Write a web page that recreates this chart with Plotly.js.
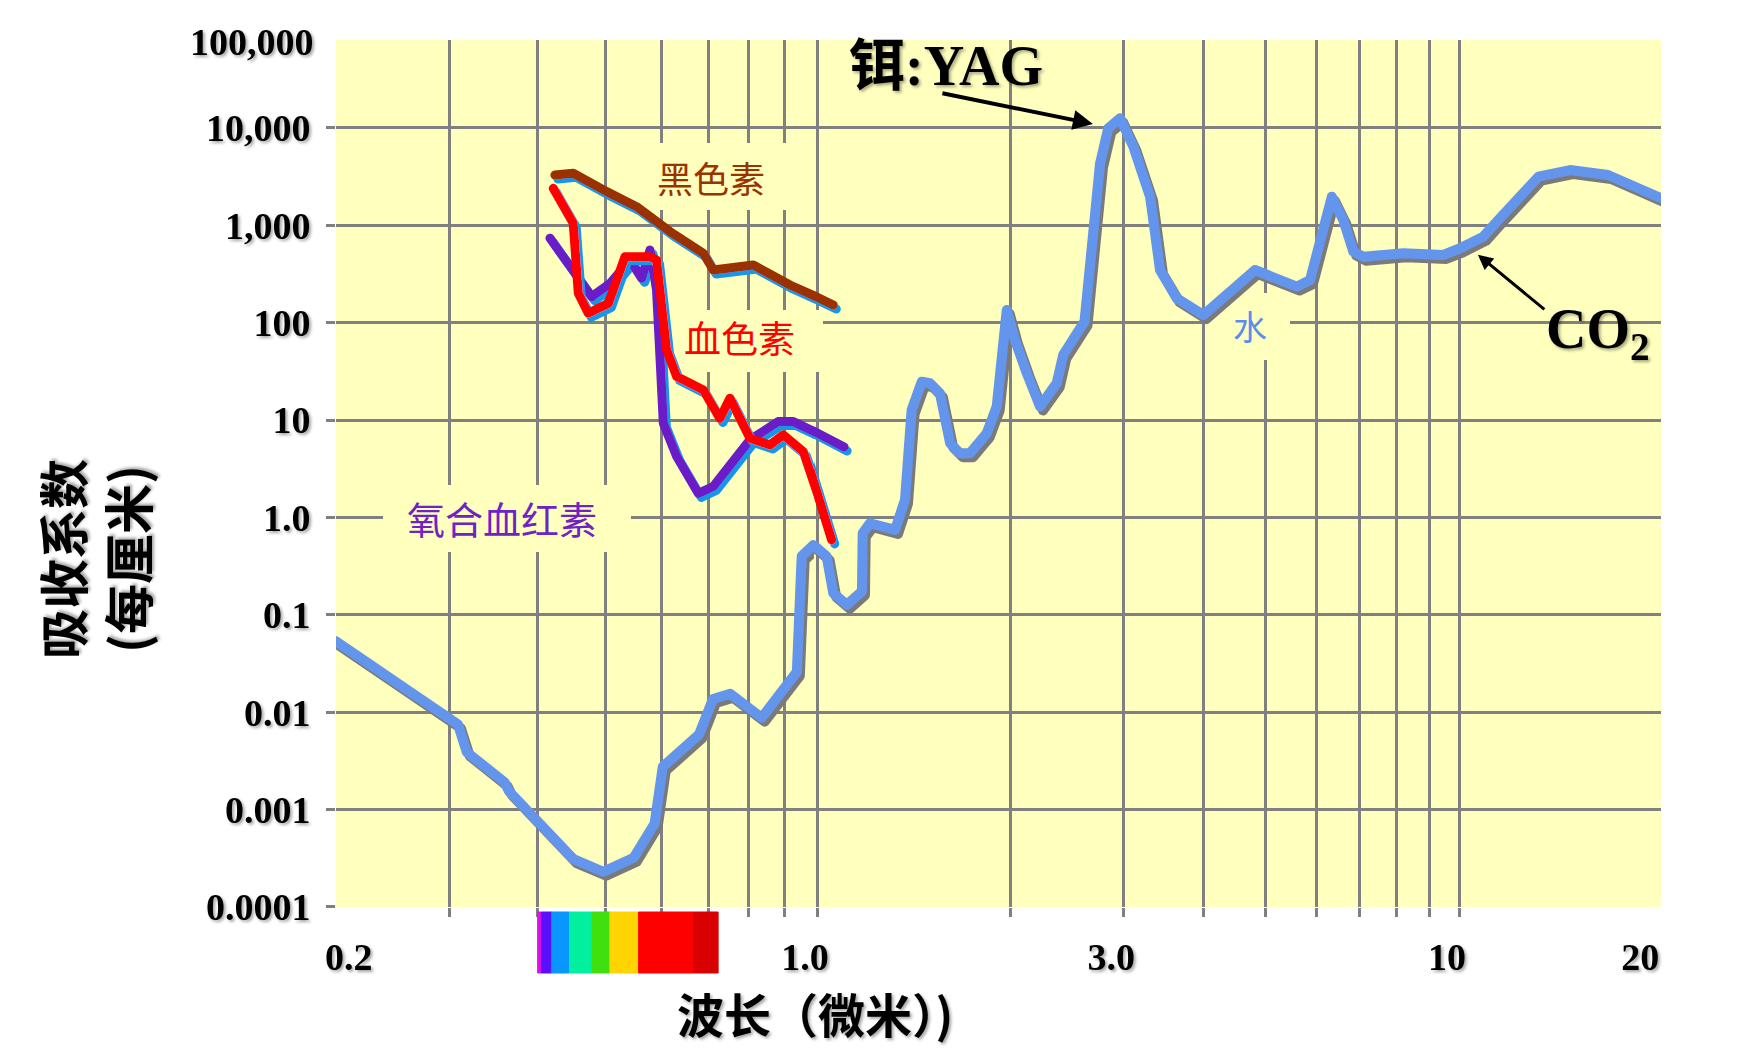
<!DOCTYPE html>
<html>
<head>
<meta charset="utf-8">
<script src="https://cdn.plot.ly/plotly-3.0.1.min.js"></script>
<style>
html,body{margin:0;padding:0;background:#ffffff;}
#chart{width:1740px;height:1050px;}
.js-line{stroke-linejoin:round !important;stroke-linecap:round !important;}
</style>
</head>
<body>
<div id="chart"></div>
<script>
// ---------------- data (wavelength in µm, absorption coefficient in cm^-1) ----------------
const waterWl  = [0.206, 0.270, 0.308, 0.317, 0.359, 0.364, 0.401, 0.450, 0.496, 0.548, 0.587, 0.603, 0.679, 0.711, 0.752, 0.834, 0.936, 0.951, 0.988,
                  1.035, 1.060, 1.113, 1.175, 1.178, 1.209, 1.323, 1.371, 1.404, 1.456, 1.500, 1.554, 1.612, 1.670, 1.731, 1.838, 1.905, 1.975,
                  2.034, 2.122, 2.225, 2.362, 2.419, 2.61, 2.760, 2.842, 2.965, 3.110, 3.302, 3.422, 3.634, 3.998, 4.398, 4.811, 5.588, 5.861,
                  6.337, 6.603, 6.846, 7.095, 8.190, 9.453, 10.04, 10.91, 11.51, 13.30, 14.89, 17.07, 20.64];
const waterAbs = [0.054, 0.0137, 0.0075, 0.0039, 0.0019, 0.00155, 0.00075, 0.00031, 0.00023, 0.00032, 0.00072, 0.00275, 0.0059, 0.0137, 0.0155, 0.0088, 0.026, 0.40, 0.52,
                  0.40, 0.167, 0.127, 0.175, 0.69, 0.873, 0.746, 1.52, 12.7, 24.8, 23.9, 18.9, 5.79, 4.57, 4.57, 7.33, 13.8, 135,
                  66.5, 30.3, 13.8, 23.9, 47, 103, 4340, 9930, 12600, 6430, 1970, 348, 178, 120, 201, 348, 235, 275,
                  1970, 1135, 537, 477, 517, 497, 582, 766, 1135, 3160, 3700, 3290, 1900];

const melaninWl  = [0.4233, 0.4495, 0.5017, 0.5534, 0.6177, 0.6887, 0.7115, 0.8115, 0.9152, 1.060];
const melaninAbs = [3290, 3430, 2220, 1556, 861, 517, 348, 392, 244, 152];

const hbWl  = [0.421, 0.4495, 0.4571, 0.4723, 0.5044, 0.5327, 0.5782, 0.5908, 0.6106, 0.6312, 0.6887, 0.7273, 0.7516, 0.8026, 0.857, 0.8954, 0.9561, 1.054];
const hbAbs = [2400, 1052, 201, 125, 158, 477, 477, 441, 52.6, 28, 20.4, 10.4, 16.8, 6.51, 5.56, 7.05, 4.75, 0.589];

const hbo2Wl  = [0.4165, 0.452, 0.4776, 0.5073, 0.5415, 0.5627, 0.5782, 0.5908, 0.6041, 0.6312, 0.6774, 0.7115, 0.8026, 0.8808, 0.9252, 1.102];
const hbo2Abs = [738, 310, 185, 254, 441, 286, 559, 217, 9.29, 4.22, 1.77, 2.08, 6.27, 9.66, 9.66, 5.3];

// visible spectrum strip (band edges in µm)
const spectrumEdges  = [0.400, 0.405, 0.419, 0.444, 0.478, 0.507, 0.557, 0.668, 0.723];
const spectrumColors = ['#E010E0', '#5A10FF', '#0A96FF', '#00F0A0', '#40E010', '#FFD400', '#FF0000', '#D80000'];

// laser annotation targets
const yagPoint = [2.69, 11000];
const co2Point = [10.7, 500];

// ticks
const yTickVals = [1e-4, 1e-3, 0.01, 0.1, 1, 10, 100, 1000, 10000];
const yTickText = ['0.0001', '0.001', '0.01', '0.1', '1.0', '10', '100', '1,000', '10,000'];
const yTopLabel = '100,000';
const xTickValsIR = [1, 3, 10, 20];
const xTickTextIR = ['1.0', '3.0', '10', '20'];
const xLeftLabel = '0.2';
const xGridVis = [0.3, 0.4, 0.5, 0.6, 0.7, 0.8, 0.9];
const xGridIR  = [1, 2, 3, 4, 5, 6, 7, 8, 9, 10];

// ---------------- geometry (pixels) ----------------
const G = {L: 336, R: 1661, T: 40, B: 907, split: 814, one: 817, decL: 702, decR: 642, decY: 97.4, y1e4: 128};
const px = X => (X - G.L) / (G.R - G.L);
const py = Y => (G.B - Y) / (G.B - G.T);
const dSplit = px(G.split);
// pixel -> axis value helpers (for label backing boxes only)
const xVal = (sub, X) => Math.pow(10, (X - G.one) / (sub === 'x' ? G.decL : G.decR));
const yVal = Y => Math.pow(10, 4 - (Y - G.y1e4) / G.decY);

const yellow = '#FFFFBE';
const gridGrey = '#808080';

// ---------------- traces ----------------
function splitAt1(wl, v) {
  const k = wl.findIndex(w => w >= 1);
  return {left: [wl.slice(0, k + 1), v.slice(0, k + 1)], right: [wl.slice(k - 1), v.slice(k - 1)]};
}
const series = [
  {wl: waterWl,   v: waterAbs,   color: '#6495ED', width: 10, shadow: 'grey'},
  {wl: melaninWl, v: melaninAbs, color: '#993300', width: 9, shadow: 'blue'},
  {wl: hbo2Wl,    v: hbo2Abs,    color: '#6A1CC8', width: 9, shadow: 'blue'},
  {wl: hbWl,      v: hbAbs,      color: '#FF0000', width: 9, shadow: 'blue'}
];
const traces = [];
series.forEach(s => {
  const p = splitAt1(s.wl, s.v);
  [['x', p.left], ['x2', p.right]].forEach(([ax, d]) => {
    traces.push({x: d[0], y: d[1], xaxis: ax, yaxis: 'y', type: 'scatter', mode: 'lines',
      line: {color: s.color, width: s.width}, meta: s.shadow, hoverinfo: 'skip', showlegend: false});
  });
});

// ---------------- shapes ----------------
const shapes = [];
function boxShape(sub, X0, X1, Y0, Y1) {
  return {type: 'rect', layer: 'between', xref: sub, yref: 'y',
    x0: xVal(sub, X0), x1: xVal(sub, X1), y0: yVal(Y1), y1: yVal(Y0),
    fillcolor: yellow, line: {width: 0}};
}
shapes.push(boxShape('x', 635, 800, 143, 210));   // 黑色素
shapes.push(boxShape('x', 662, 815, 310, 372));   // 血色素
shapes.push(boxShape('x2', 813, 823, 310, 372));
shapes.push(boxShape('x', 383, 631, 485, 552));   // 氧合血红素
shapes.push(boxShape('x2', 1207, 1290, 293, 360)); // 水
spectrumColors.forEach((c, i) => {
  shapes.push({type: 'rect', xref: 'x', yref: 'paper', x0: spectrumEdges[i], x1: spectrumEdges[i + 1],
    y0: py(973), y1: py(912), fillcolor: c, line: {color: c, width: 1}, layer: 'above'});
});

// ---------------- annotations ----------------
const serif = 'Liberation Serif, Times New Roman, serif';
const cjk = 'Noto Sans CJK SC, sans-serif';
const tickFont = {family: serif, size: 38, color: '#000000', weight: 'bold'};
const ann = [];
const shadowAnn = [];
function txt(text, X, Y, font, extra, shadow) {
  if (shadow) shadowAnn.push(ann.length);
  ann.push(Object.assign({text: text, xref: 'paper', yref: 'paper', x: px(X), y: py(Y),
    xanchor: 'center', yanchor: 'middle', showarrow: false, font: font}, extra || {}));
}
txt(yTopLabel, 316, 42, tickFont, {xanchor: 'right'}, true);
txt(xLeftLabel, 349, 957, tickFont, {}, true);
txt('黑色素', 711, 177, {family: cjk, size: 36, color: '#993300'});
txt('血色素', 739, 337, {family: cjk, size: 37, color: '#FF0000'});
txt('氧合血红素', 502, 517, {family: cjk, size: 38, color: '#7022C4'});
txt('水', 1250, 325, {family: cjk, size: 34, color: '#5B8DEE'});
txt('铒:YAG', 946, 66, {family: serif + ', ' + cjk, size: 56, color: '#000000', weight: 'bold'}, {}, true);
txt('CO<sub>2</sub>', 1598, 333, {family: serif, size: 56, color: '#000000', weight: 'bold'}, {}, true);
txt('波长（微米）)', 815, 1012, {family: cjk, size: 47, color: '#000000', weight: 'bold'}, {}, true);
txt('吸收系数<br>(每厘米)', 93, 559, {family: cjk, size: 50, color: '#000000', weight: 'bold'}, {textangle: -90}, true);
ann.push({xref: 'x2', yref: 'y', x: Math.log10(yagPoint[0]), y: Math.log10(yagPoint[1]), ax: -152, ay: -31,
  text: '', showarrow: true, arrowhead: 2, arrowsize: 1, arrowwidth: 4, arrowcolor: '#000000', standoff: 0});
ann.push({xref: 'x2', yref: 'y', x: Math.log10(co2Point[0]), y: Math.log10(co2Point[1]), ax: 68, ay: 56,
  text: '', showarrow: true, arrowhead: 2, arrowsize: 1, arrowwidth: 3, arrowcolor: '#000000', standoff: 0});

// ---------------- layout ----------------
const minorGrid = vals => ({tickmode: 'array', tickvals: vals, showgrid: true, gridcolor: gridGrey, gridwidth: 3,
  ticks: 'outside', ticklen: 9, tickwidth: 3, tickcolor: gridGrey});
const layout = {
  width: 1740, height: 1050,
  margin: {l: G.L, r: 1740 - G.R, t: G.T, b: 1050 - G.B, pad: 0},
  paper_bgcolor: '#ffffff', plot_bgcolor: yellow, showlegend: false,
  xaxis: {type: 'log', domain: [0, dSplit], anchor: 'y',
    range: [(G.L - G.one) / G.decL, (G.split - G.one) / G.decL],
    tickmode: 'array', tickvals: [], showticklabels: false, ticks: '', showgrid: false, showline: false, zeroline: false,
    minor: minorGrid(xGridVis)},
  xaxis2: {type: 'log', domain: [dSplit, 1], anchor: 'y',
    range: [(G.split - G.one) / G.decR, (G.R - G.one) / G.decR],
    tickmode: 'array', tickvals: xTickValsIR, ticktext: xTickTextIR, ticks: '', showgrid: false, showline: false, zeroline: false,
    tickfont: tickFont, ticklabelstandoff: 24, ticklabelshift: -12,
    minor: minorGrid(xGridIR)},
  yaxis: {type: 'log', domain: [0, 1], anchor: 'x',
    range: [-4.0001, 4 + (G.y1e4 - G.T) / G.decY],
    tickmode: 'array', tickvals: yTickVals, ticktext: yTickText,
    showgrid: true, gridcolor: gridGrey, gridwidth: 3, zeroline: false, showline: false,
    ticks: 'outside', ticklen: 9, tickwidth: 3, tickcolor: gridGrey,
    tickfont: tickFont, ticklabelstandoff: 8},
  shapes: shapes,
  annotations: ann
};

Plotly.newPlot('chart', traces, layout, {staticPlot: true, displayModeBar: false}).then(gd => {
  const NS = 'http://www.w3.org/2000/svg';
  const svg = gd.querySelector('.main-svg');
  const defs = document.createElementNS(NS, 'defs');
  function dropFilter(id, color) {
    const f = document.createElementNS(NS, 'filter');
    f.setAttribute('id', id);
    f.setAttribute('filterUnits', 'userSpaceOnUse');
    f.setAttribute('x', '-500'); f.setAttribute('y', '-500');
    f.setAttribute('width', '3000'); f.setAttribute('height', '2500');
    f.innerHTML = '<feOffset in="SourceAlpha" dx="3" dy="4" result="o"/>' +
      '<feFlood flood-color="' + color + '"/><feComposite in2="o" operator="in" result="s"/>' +
      '<feMerge><feMergeNode in="s"/><feMergeNode in="SourceGraphic"/></feMerge>';
    defs.appendChild(f);
  }
  dropFilter('sh-grey', '#7a7a7a');
  dropFilter('sh-blue', '#1296E6');
  const tf = document.createElementNS(NS, 'filter');
  tf.setAttribute('id', 'tshadow');
  tf.setAttribute('x', '-20%'); tf.setAttribute('y', '-30%');
  tf.setAttribute('width', '150%'); tf.setAttribute('height', '160%');
  tf.innerHTML = '<feGaussianBlur in="SourceAlpha" stdDeviation="1.5"/><feOffset dx="2" dy="2" result="b"/>' +
    '<feFlood flood-color="#000" flood-opacity="0.35"/><feComposite in2="b" operator="in"/>' +
    '<feMerge><feMergeNode/><feMergeNode in="SourceGraphic"/></feMerge>';
  defs.appendChild(tf);
  svg.insertBefore(defs, svg.firstChild);
  gd.querySelectorAll('.scatterlayer .trace').forEach(el => {
    const cd = el.__data__;
    const tr = cd && cd[0] && cd[0].trace;
    if (tr && tr.meta) el.setAttribute('filter', 'url(#sh-' + tr.meta + ')');
  });
  gd.querySelectorAll('.xtick text, .ytick text, .x2tick text').forEach(el => el.setAttribute('filter', 'url(#tshadow)'));
  shadowAnn.forEach(i => {
    const g = gd.querySelector('.annotation[data-index="' + i + '"] text');
    if (g) g.setAttribute('filter', 'url(#tshadow)');
  });
});
</script>
</body>
</html>
